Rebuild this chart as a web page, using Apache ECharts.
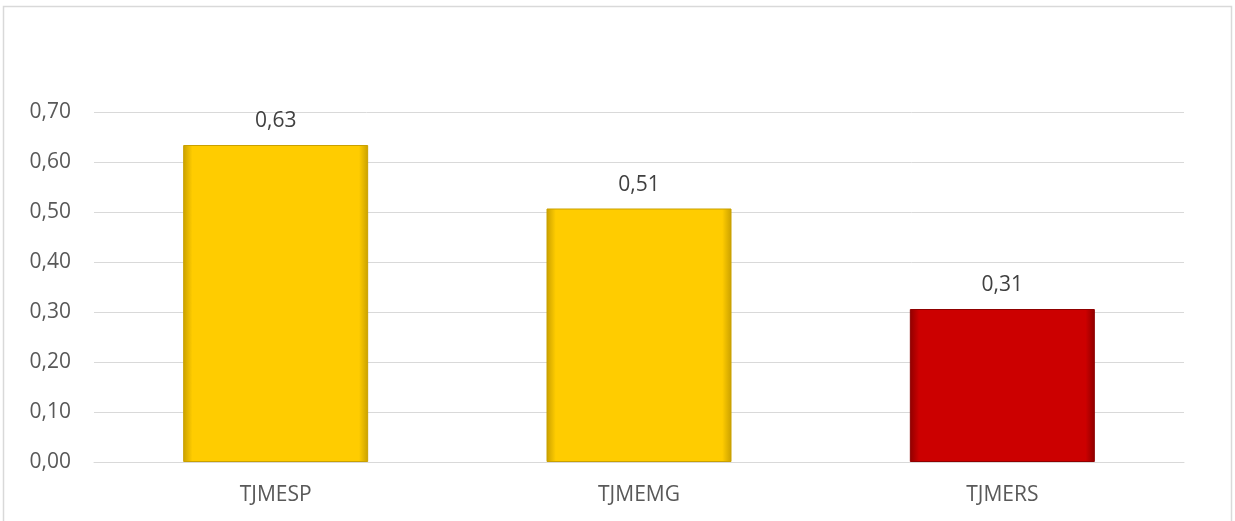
<!DOCTYPE html>
<html><head><meta charset="utf-8">
<script src="https://cdn.jsdelivr.net/npm/echarts@6/dist/echarts.min.js"></script>
<style>html,body{margin:0;padding:0;background:#fff}#c{width:1235px;height:521px}</style>
</head><body><div id="c"></div>
<script>
const categories = ['TJMESP', 'TJMEMG', 'TJMERS'];
const values = [0.634, 0.507, 0.306];
const barColors = ['#FFCC00', '#FFCC00', '#CC0000'];
const barBorders = ['#C9A000', '#C9A000', '#8F0000'];
const yTicks = [0, 0.1, 0.2, 0.3, 0.4, 0.5, 0.6, 0.7];

const chart = echarts.init(document.getElementById('c'));
const fmt = v => v.toFixed(2).replace('.', ',');
chart.setOption({
  animation: false,
  backgroundColor: '#fff',
  graphic: [{
    type: 'rect', shape: { x: 3.5, y: 6.5, width: 1228, height: 530 },
    style: { fill: 'none', stroke: '#D9D9D9', lineWidth: 1.5 }, silent: true
  }],
  grid: { left: 94, right: 51, top: 112, bottom: 59 },
  xAxis: {
    type: 'category', data: categories,
    axisLine: { lineStyle: { color: '#D9D9D9', width: 1 } },
    axisTick: { show: false },
    axisLabel: { color: '#595959', fontSize: 21, fontFamily: 'Open Sans', margin: 23 }
  },
  yAxis: {
    type: 'value', min: 0, max: yTicks[yTicks.length - 1], interval: 0.1,
    axisLine: { show: false }, axisTick: { show: false },
    splitLine: { lineStyle: { color: '#D9D9D9', width: 1 } },
    axisLabel: { color: '#595959', fontSize: 21, fontFamily: 'Open Sans', margin: 23, formatter: v => fmt(v) }
  },
  series: [{
    type: 'bar', barWidth: 185,
    data: values.map((v, i) => ({
      value: v,
      itemStyle: {
        color: {
          type: 'linear', x: 0, y: 0, x2: 1, y2: 0,
          colorStops: [
            { offset: 0, color: barBorders[i] },
            { offset: 0.05, color: barColors[i] },
            { offset: 0.95, color: barColors[i] },
            { offset: 1, color: barBorders[i] }
          ]
        },
        borderColor: barBorders[i], borderWidth: 1
      }
    })),
    label: {
      show: true, position: 'top', distance: 13, color: '#404040', fontSize: 21,
      fontFamily: 'Open Sans', formatter: p => fmt(p.value)
    }
  }]
});
</script></body></html>
